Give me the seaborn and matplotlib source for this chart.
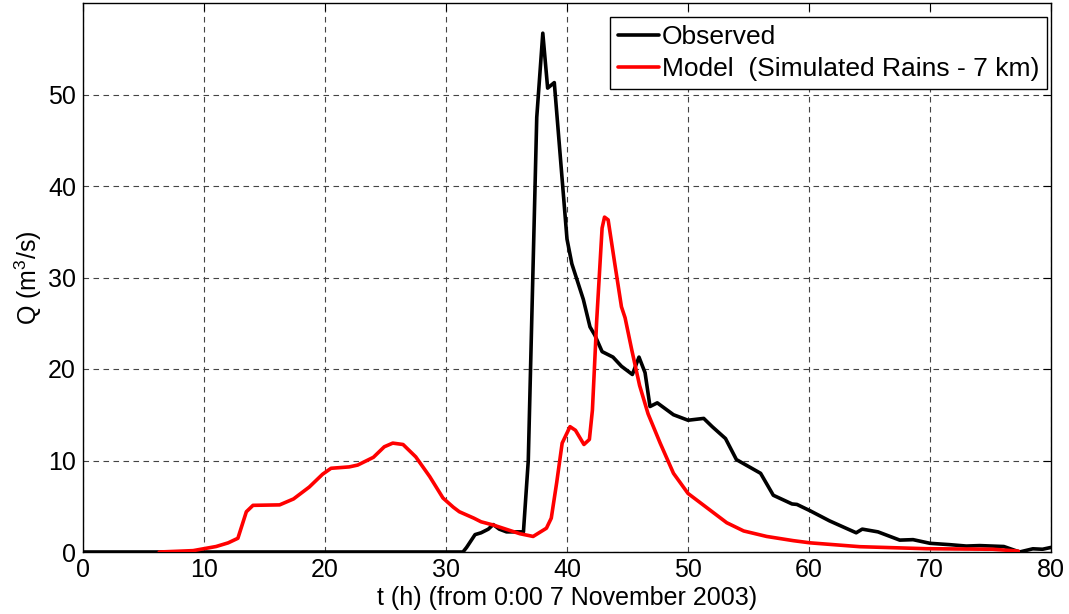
import matplotlib
matplotlib.use("Agg")
import matplotlib.pyplot as plt
import seaborn as sns
import numpy as np

# ---- data ----
obs_t = [0, 31.4, 31.7, 32.4, 32.9, 33.5, 33.9, 34.4, 35.0, 36.4, 36.8, 37.5, 38.0,
         38.4, 38.95, 40.0, 40.4, 41.35, 41.9, 42.3, 42.9, 43.8, 44.5, 45.4, 45.95,
         46.45, 46.86, 47.46, 48.8, 50.0, 51.3, 52.0, 53.1, 54.0, 56.0, 57.05, 58.6,
         59.0, 60.1, 61.7, 63.9, 64.4, 65.7, 67.5, 68.6, 70.0, 71.65, 73.0, 74.1,
         76.1, 77.4, 78.5, 79.3, 80.0]
obs_q = [0, 0, 0.5, 1.9, 2.1, 2.5, 3.0, 2.5, 2.2, 2.2, 10.0, 47.5, 56.7,
         50.7, 51.3, 34.2, 31.5, 27.6, 24.6, 23.7, 21.9, 21.3, 20.3, 19.4, 21.3,
         19.6, 15.9, 16.3, 15.0, 14.4, 14.6, 13.7, 12.4, 10.1, 8.6, 6.2, 5.25,
         5.2, 4.5, 3.4, 2.1, 2.5, 2.2, 1.3, 1.35, 0.95, 0.8, 0.65, 0.7,
         0.6, 0.0, 0.35, 0.3, 0.5]

mod_t = [6.3, 9.1, 11.0, 12.0, 12.8, 13.5, 14.05, 16.25, 17.4, 18.7, 19.8, 20.5,
         22.0, 22.7, 24.0, 24.9, 25.6, 26.45, 27.5, 28.65, 29.75, 30.6, 31.1, 32.3,
         32.9, 33.9, 36.1, 37.2, 38.3, 38.7, 39.15, 39.6, 40.25, 40.7, 41.4, 41.85,
         42.1, 42.45, 42.9, 43.1, 43.4, 43.95, 44.5, 44.8, 45.35, 46.0, 46.7, 47.7,
         48.8, 50.0, 51.8, 53.2, 54.6, 56.5, 58.7, 60.1, 64.2, 69.7, 75.2, 77.3]
mod_q = [0, 0.15, 0.6, 1.0, 1.5, 4.4, 5.1, 5.15, 5.8, 7.1, 8.5, 9.15,
         9.3, 9.5, 10.35, 11.5, 11.9, 11.75, 10.4, 8.25, 5.9, 4.9, 4.4, 3.7,
         3.3, 2.95, 2.0, 1.7, 2.6, 3.7, 7.6, 11.9, 13.7, 13.3, 11.75, 12.3,
         15.5, 25.2, 35.4, 36.6, 36.3, 31.5, 26.8, 25.6, 22.1, 18.2, 15.1, 11.9,
         8.6, 6.4, 4.6, 3.2, 2.3, 1.7, 1.24, 1.0, 0.58, 0.36, 0.3, 0.1]

x_ticks = [0, 10, 20, 30, 40, 50, 60, 70, 80]
y_ticks = [0, 10, 20, 30, 40, 50]

sns.set_style("white")
plt.rcParams['font.family'] = ['Liberation Sans', 'DejaVu Sans']
plt.rcParams['mathtext.fontset'] = 'custom'
plt.rcParams['mathtext.rm'] = 'Liberation Sans'
plt.rcParams['mathtext.it'] = 'Liberation Sans:italic'
plt.rcParams['text.color'] = 'black'
plt.rcParams['axes.labelcolor'] = 'black'

fig = plt.figure(figsize=(10.69, 6.14), dpi=100)
ax = fig.add_axes([83/1069, 1 - 552/614, (1051-83)/1069, (552-3)/614])

sns.lineplot(x=obs_t, y=obs_q, ax=ax, color='black', lw=2.6, estimator=None,
             sort=False, label='Observed', zorder=3)
sns.lineplot(x=mod_t, y=mod_q, ax=ax, color='#ff0000', lw=2.6, estimator=None,
             sort=False, label='Model  (Simulated Rains - 7 km)', zorder=4)

ax.set_xlim(0, 80)
ax.set_ylim(0, 60)
ax.set_xticks(x_ticks)
ax.set_yticks(y_ticks)
ax.tick_params(direction='in', length=6, width=0.8, top=True, right=True,
               labelsize=18, colors='black')
ax.tick_params(axis='x', pad=4)
ax.tick_params(axis='y', pad=5)
ax.grid(True, linestyle=(0, (5, 4)), color='#444444', linewidth=0.8)
for s in ax.spines.values():
    s.set_color('black')
    s.set_linewidth(1.0)

ax.set_xlabel('t (h) (from 0:00 7 November 2003)', fontsize=18, labelpad=3, color='black')
ax.set_ylabel('Q (m$^3$/s)', fontsize=18, labelpad=3, color='black')

leg = ax.legend(loc='upper right', bbox_to_anchor=((1047-83)/968, (552-17)/549),
                borderaxespad=0, fontsize=19, frameon=True, fancybox=False,
                handlelength=1.55, handletextpad=0.12, borderpad=0.3,
                labelspacing=0.3, labelcolor='black')
leg.get_frame().set_edgecolor('black')
leg.get_frame().set_linewidth(1.0)
leg.get_frame().set_alpha(1)

fig.savefig('out.png', dpi=100)
